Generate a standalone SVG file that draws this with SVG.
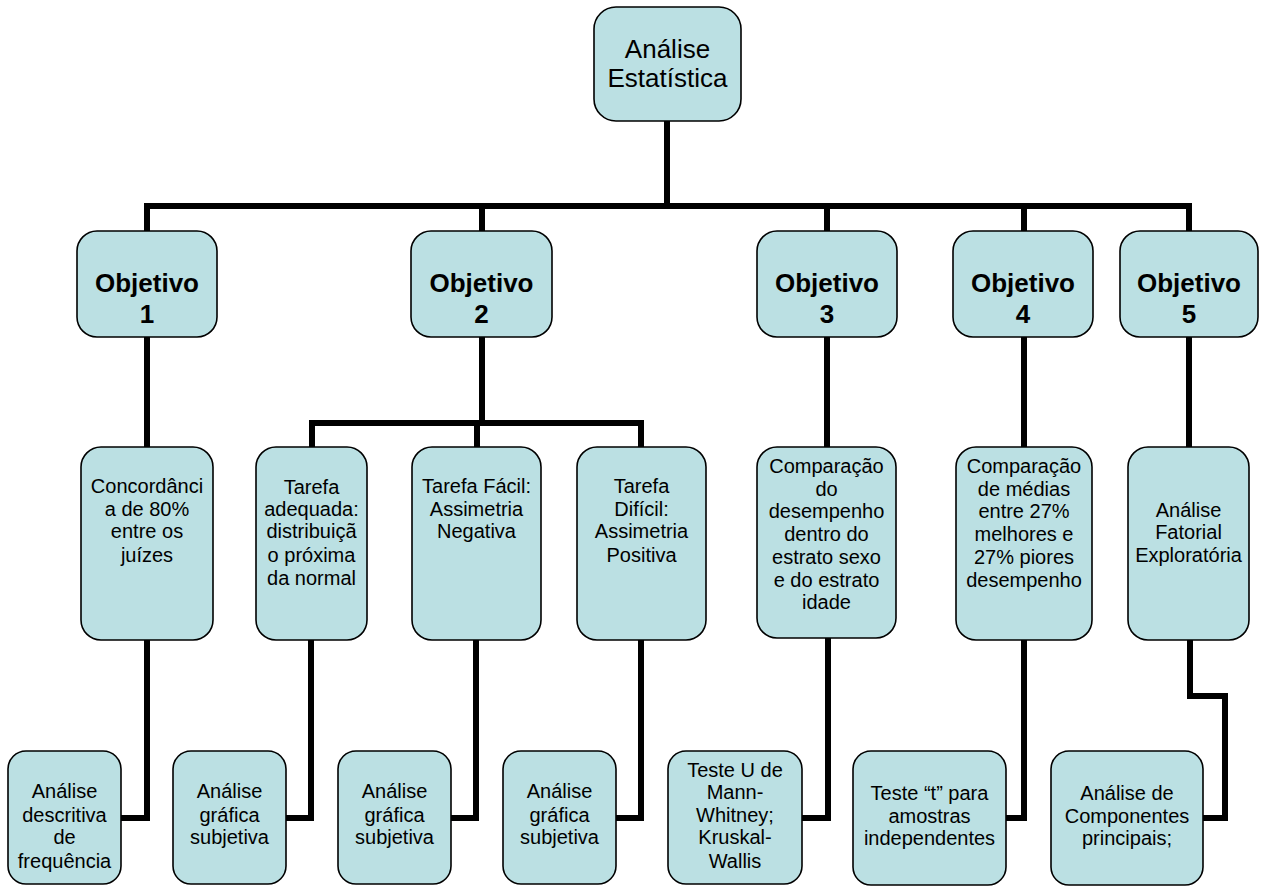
<svg xmlns="http://www.w3.org/2000/svg" width="1264" height="888" viewBox="0 0 1264 888">
<style>
.box{fill:#BBE0E3;stroke:#000;stroke-width:1.6}
.t{font-family:"Liberation Sans",Arial,sans-serif;font-size:20px;fill:#000;text-anchor:middle}
.big{font-size:26px}
.b{font-size:26px;font-weight:bold}
.c{fill:none;stroke:#000;stroke-width:6;stroke-linejoin:miter;stroke-linecap:square}
</style>
<rect width="1264" height="888" fill="#fff"/>
<g id="connectors">
<path class="c" d="M667,121 V206"/>
<path class="c" d="M147,231 V206 H1189 V231"/>
<path class="c" d="M482,206 V231"/>
<path class="c" d="M827,206 V231"/>
<path class="c" d="M1024,206 V231"/>
<path class="c" d="M147,337 V447"/>
<path class="c" d="M482,337 V423"/>
<path class="c" d="M312,447 V423 H641 V447"/>
<path class="c" d="M477,423 V447"/>
<path class="c" d="M827,337 V447"/>
<path class="c" d="M1024,337 V447"/>
<path class="c" d="M1189,337 V447"/>
<path class="c" d="M147,640 V818 H122"/>
<path class="c" d="M311,640 V818 H287"/>
<path class="c" d="M476,640 V818 H452"/>
<path class="c" d="M641,640 V818 H617"/>
<path class="c" d="M828,638 V818 H803"/>
<path class="c" d="M1024,640 V818 H1007"/>
<path class="c" d="M1190,640 V696 H1225 V818 H1204"/>
</g>
<g id="root">
<rect class="box" x="594" y="7" width="147" height="114" rx="22"/>
<text class="t big" x="667.5" y="58">Análise</text>
<text class="t big" x="667.5" y="87">Estatística</text>
</g>
<g id="obj1">
<rect class="box" x="77" y="231" width="140" height="106" rx="20"/>
<text class="t b" x="147" y="292">Objetivo</text>
<text class="t b" x="147" y="323">1</text>
</g>
<g id="obj2">
<rect class="box" x="411" y="231" width="141" height="106" rx="20"/>
<text class="t b" x="481.5" y="292">Objetivo</text>
<text class="t b" x="481.5" y="323">2</text>
</g>
<g id="obj3">
<rect class="box" x="757" y="231" width="140" height="106" rx="20"/>
<text class="t b" x="827" y="292">Objetivo</text>
<text class="t b" x="827" y="323">3</text>
</g>
<g id="obj4">
<rect class="box" x="953" y="231" width="140" height="106" rx="20"/>
<text class="t b" x="1023" y="292">Objetivo</text>
<text class="t b" x="1023" y="323">4</text>
</g>
<g id="obj5">
<rect class="box" x="1120" y="231" width="138" height="106" rx="20"/>
<text class="t b" x="1189" y="292">Objetivo</text>
<text class="t b" x="1189" y="323">5</text>
</g>
<g id="concordancia">
<rect class="box" x="81" y="447" width="132" height="193" rx="20"/>
<text class="t" x="147" y="493">Concordânci</text>
<text class="t" x="147" y="516">a de 80%</text>
<text class="t" x="147" y="538">entre os</text>
<text class="t" x="147" y="562">juízes</text>
</g>
<g id="tarefa-adequada">
<rect class="box" x="256" y="447" width="111" height="193" rx="20"/>
<text class="t" x="311.5" y="494">Tarefa</text>
<text class="t" x="311.5" y="516">adequada:</text>
<text class="t" x="311.5" y="538">distribuiçã</text>
<text class="t" x="311.5" y="562">o próxima</text>
<text class="t" x="311.5" y="585">da normal</text>
</g>
<g id="tarefa-facil">
<rect class="box" x="412" y="447" width="129" height="193" rx="20"/>
<text class="t" x="476.5" y="493">Tarefa Fácil:</text>
<text class="t" x="476.5" y="516">Assimetria</text>
<text class="t" x="476.5" y="538">Negativa</text>
</g>
<g id="tarefa-dificil">
<rect class="box" x="577" y="447" width="129" height="193" rx="20"/>
<text class="t" x="641.5" y="493">Tarefa</text>
<text class="t" x="641.5" y="516">Difícil:</text>
<text class="t" x="641.5" y="538">Assimetria</text>
<text class="t" x="641.5" y="562">Positiva</text>
</g>
<g id="comparacao-desempenho">
<rect class="box" x="757" y="447" width="139" height="191" rx="20"/>
<text class="t" x="826.5" y="473">Comparação</text>
<text class="t" x="826.5" y="496">do</text>
<text class="t" x="826.5" y="518">desempenho</text>
<text class="t" x="826.5" y="541">dentro do</text>
<text class="t" x="826.5" y="564">estrato sexo</text>
<text class="t" x="826.5" y="587">e do estrato</text>
<text class="t" x="826.5" y="609">idade</text>
</g>
<g id="comparacao-medias">
<rect class="box" x="956" y="447" width="136" height="193" rx="20"/>
<text class="t" x="1024" y="473">Comparação</text>
<text class="t" x="1024" y="496">de médias</text>
<text class="t" x="1024" y="518">entre 27%</text>
<text class="t" x="1024" y="541">melhores e</text>
<text class="t" x="1024" y="564">27% piores</text>
<text class="t" x="1024" y="587">desempenho</text>
</g>
<g id="fatorial">
<rect class="box" x="1128" y="447" width="121" height="193" rx="20"/>
<text class="t" x="1188.5" y="517">Análise</text>
<text class="t" x="1188.5" y="539">Fatorial</text>
<text class="t" x="1188.5" y="562">Exploratória</text>
</g>
<g id="descritiva">
<rect class="box" x="8" y="751" width="113" height="133" rx="18"/>
<text class="t" x="64.5" y="798">Análise</text>
<text class="t" x="64.5" y="822">descritiva</text>
<text class="t" x="64.5" y="844">de</text>
<text class="t" x="64.5" y="868">frequência</text>
</g>
<g id="grafica1">
<rect class="box" x="173" y="751" width="113" height="133" rx="18"/>
<text class="t" x="229.5" y="798">Análise</text>
<text class="t" x="229.5" y="822">gráfica</text>
<text class="t" x="229.5" y="844">subjetiva</text>
</g>
<g id="grafica2">
<rect class="box" x="338" y="751" width="113" height="133" rx="18"/>
<text class="t" x="394.5" y="798">Análise</text>
<text class="t" x="394.5" y="822">gráfica</text>
<text class="t" x="394.5" y="844">subjetiva</text>
</g>
<g id="grafica3">
<rect class="box" x="503" y="751" width="113" height="133" rx="18"/>
<text class="t" x="559.5" y="798">Análise</text>
<text class="t" x="559.5" y="822">gráfica</text>
<text class="t" x="559.5" y="844">subjetiva</text>
</g>
<g id="mann-whitney">
<rect class="box" x="668" y="751" width="134" height="133" rx="18"/>
<text class="t" x="735" y="777">Teste U de</text>
<text class="t" x="735" y="799">Mann-</text>
<text class="t" x="735" y="822">Whitney;</text>
<text class="t" x="735" y="844">Kruskal-</text>
<text class="t" x="735" y="868">Wallis</text>
</g>
<g id="teste-t">
<rect class="box" x="853" y="751" width="153" height="134" rx="18"/>
<text class="t" x="929.5" y="800">Teste “t” para</text>
<text class="t" x="929.5" y="823">amostras</text>
<text class="t" x="929.5" y="845">independentes</text>
</g>
<g id="componentes">
<rect class="box" x="1051" y="751" width="152" height="134" rx="18"/>
<text class="t" x="1127" y="800">Análise de</text>
<text class="t" x="1127" y="823">Componentes</text>
<text class="t" x="1127" y="845">principais;</text>
</g>
</svg>
